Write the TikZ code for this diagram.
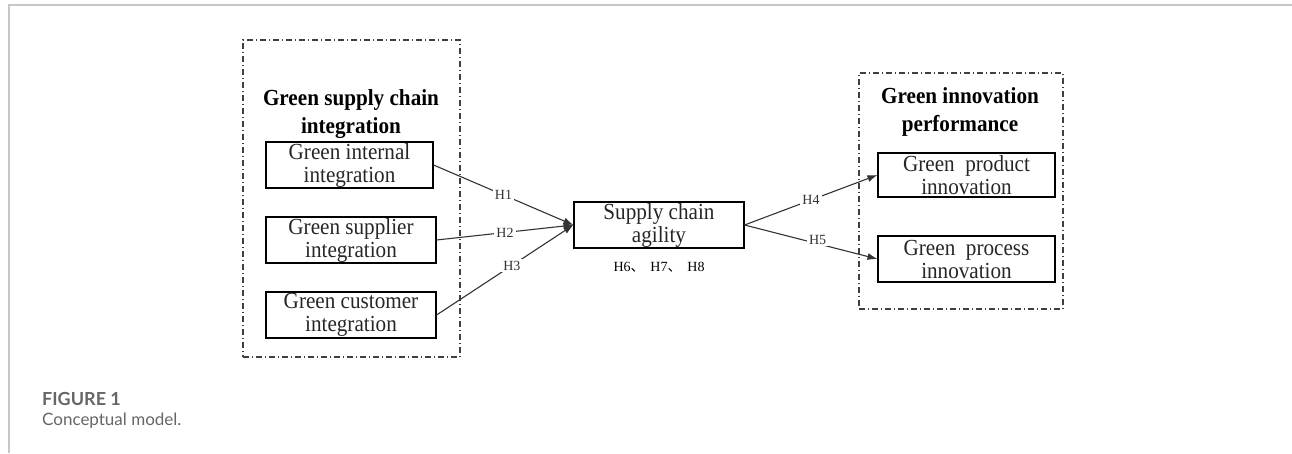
\documentclass[tikz,border=0pt]{standalone}
\usepackage{fontspec}
\setmainfont{Liberation Serif}
\newfontfamily\boxfont[FakeStretch=0.92]{Liberation Serif}
\newfontfamily\capfont{Lato}
\newfontfamily\cjk{Noto Sans CJK SC}
\usepackage{tikz}
\usetikzlibrary{arrows.meta,positioning}

\begin{document}
\begin{tikzpicture}[x=1pt, y=-1pt,
  var/.style={draw, line width=1.1pt, minimum width=170pt, minimum height=46pt, inner sep=0pt, align=center, font=\boxfont\fontsize{23}{23}\selectfont, text=black!85},
  grp/.style={draw=black!75, line width=1.1pt, dash pattern=on 6pt off 3pt on 1pt off 3pt},
  ttl/.style={font=\boxfont\fontsize{23}{28}\selectfont\bfseries, align=center},
  arr/.style={-{Latex[length=10pt,width=7pt]}, line width=1.1pt, black!80},
  hyp/.style={font=\fontsize{14}{16}\selectfont, fill=white, inner sep=2pt},
  captxt/.style={font=\capfont\fontsize{17}{19}\selectfont, text=black!60, anchor=west, inner sep=0pt}
]
\useasboundingbox (0,0) rectangle (1292,453);
% frame of the figure card
\draw[black!22, line width=2pt] (9,453) -- (9,5) -- (1292,5);

% group boxes
\node[grp, minimum width=217pt, minimum height=317pt] (gsci) at (351.5,198.5) {};
\node[grp, minimum width=204pt, minimum height=236pt] (gip)  at (961,191) {};
\node[ttl] (gscit) at (351,114) {Green supply chain\\integration};
\node[ttl] (gipt)  at (960,112) {Green innovation\\performance};

% variables
\node[var, minimum width=167pt] (internal) at (349.5,165) {Green internal\\integration};
\node[var] (supplier) at (351,240) {Green supplier\\integration};
\node[var] (customer) at (351,315) {Green customer\\integration};
\node[var] (agility)  at (659,225) {Supply chain\\agility};
\node[var, minimum width=177pt, minimum height=44pt] (product) at (966.5,175) {Green~ product\\innovation};
\node[var, minimum width=177pt] (process) at (966.5,259) {Green~ process\\innovation};
\node[font=\fontsize{14}{16}\selectfont, below=10pt of agility] (med) {H6{\cjk 、}\, H7{\cjk 、}\, H8};

% paths
\draw[arr] (internal.east) -- node[hyp]{H1} (agility.west);
\draw[arr] (supplier.east) -- node[hyp]{H2} (agility.west);
\draw[arr] (customer.east) -- node[hyp, pos=0.55]{H3} (agility.west);
\draw[arr] (agility.east) -- node[hyp, pos=0.5]{H4} (product.west);
\draw[arr] (agility.east) -- node[hyp, pos=0.55, yshift=4pt]{H5} (process.west);

% caption
\node[captxt, font=\capfont\bfseries\fontsize{18}{20}\selectfont] (fig) at (42,399) {FIGURE 1};
\node[captxt] (capt) at (42,421) {Conceptual model.};
\end{tikzpicture}
\end{document}
